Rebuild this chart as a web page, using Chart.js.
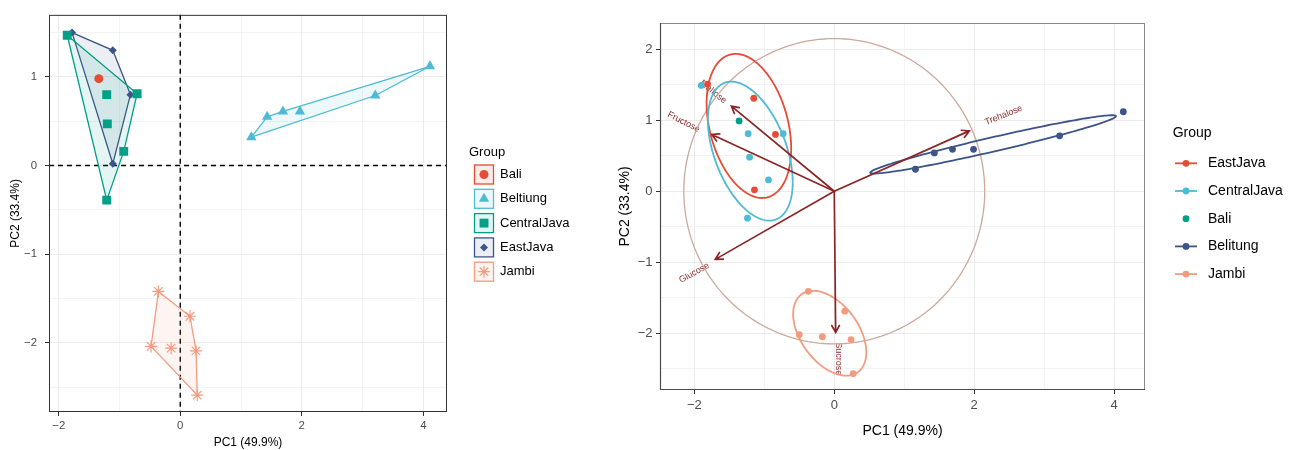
<!DOCTYPE html>
<html>
<head>
<meta charset="utf-8">
<script src="https://cdn.jsdelivr.net/npm/chart.js@4.4.0/dist/chart.umd.min.js"></script>
<style>
  body { margin: 0; background: #fff; width: 1294px; height: 450px; overflow: hidden; position: relative; }
  .box { position: absolute; top: 0; height: 450px; }
  #leftBox { left: 0; width: 600px; }
  #rightBox { left: 600px; width: 694px; }
</style>
</head>
<body>
<div class="box" id="leftBox"><canvas id="hullChart" width="600" height="450"></canvas></div>
<div class="box" id="rightBox"><canvas id="biplotChart" width="694" height="450"></canvas></div>
<script>
// ---- left plot: PCA scores with convex hulls ----
const leftGroups = ['Bali', 'Beltiung', 'CentralJava', 'EastJava', 'Jambi'];
const leftColors = ['#E64B35', '#4DBBD5', '#00A087', '#3C5488', '#F39B7F'];
const leftShapes = ['circle', 'triangle', 'rect', 'rectRot', 'star'];
const leftRadius = [4.5, 6, 6.3, 4, 6];

const leftBali = [[-1.34, 0.98]];
const leftBeltiung = [[4.11, 1.12], [3.21, 0.79], [1.97, 0.61], [1.69, 0.61], [1.43, 0.55], [1.17, 0.32]];
const leftCentralJava = [[-1.86, 1.47], [-1.21, 0.80], [-0.71, 0.81], [-1.20, 0.47], [-0.93, 0.16], [-1.21, -0.39]];
const leftEastJava = [[-1.78, 1.50], [-1.11, 1.30], [-0.82, 0.80], [-1.11, 0.02]];
const leftJambi = [[-0.36, -1.42], [0.16, -1.70], [-0.48, -2.04], [-0.15, -2.06], [0.26, -2.09], [0.28, -2.59]];
const leftPoints = [leftBali, leftBeltiung, leftCentralJava, leftEastJava, leftJambi];

const leftXTicks = [-2, -1, 0, 1, 2, 3, 4];
const leftXLabeled = [-2, 0, 2, 4];
const leftYTicks = [-2.5, -2, -1.5, -1, -0.5, 0, 0.5, 1, 1.5];
const leftYLabeled = [-2, -1, 0, 1];

// ---- right plot: biplot ----
const rightGroups = ['EastJava', 'CentralJava', 'Bali', 'Belitung', 'Jambi'];
const rightColors = ['#E64B35', '#4DBBD5', '#00A087', '#3C5488', '#F39B7F'];

const rightEastJava = [[-1.81, 1.51], [-1.15, 1.31], [-0.84, 0.80], [-1.14, 0.02]];
const rightCentralJava = [[-1.90, 1.49], [-1.23, 0.81], [-0.73, 0.81], [-1.21, 0.48], [-0.94, 0.16], [-1.24, -0.38]];
const rightBali = [[-1.36, 0.99]];
const rightBelitung = [[1.16, 0.31], [1.43, 0.54], [1.69, 0.59], [1.99, 0.59], [3.22, 0.78], [4.13, 1.12]];
const rightJambi = [[-0.37, -1.41], [0.15, -1.69], [-0.50, -2.02], [-0.17, -2.05], [0.24, -2.09], [0.27, -2.57]];
const rightPoints = [rightEastJava, rightCentralJava, rightBali, rightBelitung, rightJambi];

// ellipse per group: centre x, centre y, semi-major, semi-minor, angle (deg); null = none
const rightEllipses = [
  [-1.22, 0.92, 1.04, 0.56, 105],
  [-1.20, 0.565, 1.03, 0.515, 111],
  null,
  [2.27, 0.66, 1.80, 0.10, 12.8],
  [-0.065, -2.0, 0.68, 0.41, 126.7]
];
const circleRadius = 2.15;

const loadingNames = ['Maltose', 'Fructose', 'Glucose', 'Sucrose', 'Trehalose'];
const loadingX = [-1.47, -1.75, -1.70, 0.02, 1.93];
const loadingY = [1.20, 0.80, -0.96, -1.99, 0.85];
const labelX = [-1.73, -2.15, -2.0, 0.06, 2.42];
const labelY = [1.40, 0.975, -1.15, -2.36, 1.07];
const labelAngle = [39, 27, -29, 90, -22];

const rightXTicks = [-2, -1, 0, 1, 2, 3, 4];
const rightXLabeled = [-2, 0, 2, 4];
const rightYTicks = [-2.5, -2, -1.5, -1, -0.5, 0, 0.5, 1, 1.5, 2];
const rightYLabeled = [-2, -1, 0, 1, 2];

const FONT = '"Liberation Sans", Arial, Helvetica, sans-serif';

function fmt(v) {
  return v < 0 ? '\u2212' + Math.abs(v) : String(v);
}

function hexA(hex, a) {
  const n = parseInt(hex.slice(1), 16);
  return `rgba(${(n >> 16) & 255},${(n >> 8) & 255},${n & 255},${a})`;
}

function convexHull(pts) {
  const p = pts.slice().sort((a, b) => a[0] - b[0] || a[1] - b[1]);
  if (p.length < 3) return p;
  const cross = (o, a, b) => (a[0] - o[0]) * (b[1] - o[1]) - (a[1] - o[1]) * (b[0] - o[0]);
  const lower = [], upper = [];
  for (const q of p) {
    while (lower.length >= 2 && cross(lower[lower.length - 2], lower[lower.length - 1], q) <= 0) lower.pop();
    lower.push(q);
  }
  for (const q of p.slice().reverse()) {
    while (upper.length >= 2 && cross(upper[upper.length - 2], upper[upper.length - 1], q) <= 0) upper.pop();
    upper.push(q);
  }
  upper.pop();
  lower.pop();
  return lower.concat(upper);
}

function makeScale(min, max, ticks, labeled, fontSize, labelPad, title, titleSize, titlePad, fixed, isX) {
  return {
    type: 'linear',
    min: min,
    max: max,
    afterBuildTicks: (scale) => { scale.ticks = ticks.map(v => ({ value: v })); },
    afterFit: (scale) => { if (isX) scale.height = fixed; else scale.width = fixed; },
    ticks: {
      autoSkip: false,
      maxRotation: 0,
      padding: labelPad,
      color: '#4D4D4D',
      font: { family: FONT, size: fontSize },
      callback: (v) => labeled.includes(v) ? fmt(v) : ''
    },
    grid: {
      color: '#EBEBEB',
      lineWidth: (ctx) => ctx.tick && labeled.includes(ctx.tick.value) ? 1 : 0.6,
      tickLength: 4,
      tickWidth: 1,
      tickColor: (ctx) => ctx.tick && labeled.includes(ctx.tick.value) ? '#333333' : 'rgba(0,0,0,0)'
    },
    border: { display: false },
    title: {
      display: true,
      text: title,
      color: '#000',
      font: { family: FONT, size: titleSize },
      padding: titlePad
    }
  };
}

// ---------- left chart ----------
const leftDatasets = [];
leftGroups.forEach((g, i) => {
  leftDatasets.push({
    type: 'scatter',
    label: g,
    data: leftPoints[i].map(p => ({ x: p[0], y: p[1] })),
    pointStyle: leftShapes[i],
    pointRadius: leftRadius[i],
    pointBackgroundColor: leftColors[i],
    pointBorderColor: leftColors[i],
    pointBorderWidth: leftShapes[i] === 'star' ? 1.2 : 0,
    order: 0
  });
});
leftGroups.forEach((g, i) => {
  if (leftPoints[i].length < 3) return;
  const hull = convexHull(leftPoints[i]);
  hull.push(hull[0]);
  leftDatasets.push({
    type: 'line',
    label: g + ' hull',
    data: hull.map(p => ({ x: p[0], y: p[1] })),
    borderColor: leftColors[i],
    backgroundColor: hexA(leftColors[i], 0.1),
    borderWidth: 1.3,
    pointRadius: 0,
    tension: 0,
    fill: 'shape',
    order: 1
  });
});

const leftDecor = {
  id: 'leftDecor',
  beforeDatasetsDraw(chart) {
    const { ctx, chartArea: a, scales: { x, y } } = chart;
    ctx.save();
    ctx.strokeStyle = '#000';
    ctx.lineWidth = 1.4;
    ctx.setLineDash([5, 4]);
    ctx.beginPath();
    ctx.moveTo(x.getPixelForValue(0), a.top);
    ctx.lineTo(x.getPixelForValue(0), a.bottom);
    ctx.moveTo(a.left, y.getPixelForValue(0));
    ctx.lineTo(a.right, y.getPixelForValue(0));
    ctx.stroke();
    ctx.restore();
  },
  afterDraw(chart) {
    const { ctx, chartArea: a } = chart;
    ctx.save();
    ctx.strokeStyle = '#333';
    ctx.lineWidth = 1;
    ctx.strokeRect(a.left + 0.5, a.top + 0.5, a.right - a.left - 1, a.bottom - a.top - 1);
    // legend
    ctx.fillStyle = '#000';
    ctx.font = '13px ' + FONT;
    ctx.textBaseline = 'middle';
    ctx.textAlign = 'left';
    ctx.fillText('Group', 469, 152);
    leftGroups.forEach((g, i) => {
      const cy = 174.5 + 24.3 * i;
      const cx = 484;
      ctx.fillStyle = hexA(leftColors[i], 0.1);
      ctx.fillRect(cx - 9.5, cy - 9.5, 19, 19);
      ctx.strokeStyle = leftColors[i];
      ctx.lineWidth = 1.3;
      ctx.strokeRect(cx - 9.5, cy - 9.5, 19, 19);
      ctx.fillStyle = leftColors[i];
      ctx.strokeStyle = leftColors[i];
      ctx.lineWidth = 1.2;
      Chart.helpers.drawPoint(ctx, {
        pointStyle: leftShapes[i], radius: leftRadius[i], rotation: 0,
        borderWidth: leftShapes[i] === 'star' ? 1.2 : 0
      }, cx, cy);
      ctx.fillStyle = '#000';
      ctx.fillText(g, 500, cy);
    });
    ctx.restore();
  }
};

new Chart(document.getElementById('hullChart'), {
  type: 'scatter',
  data: { datasets: leftDatasets },
  options: {
    responsive: false,
    animation: false,
    layout: { padding: { left: 0, top: 14, right: 153, bottom: 0 } },
    plugins: { legend: { display: false }, tooltip: { enabled: false } },
    scales: {
      x: makeScale(-2.16, 4.39, leftXTicks, leftXLabeled, 11.4, 3, 'PC1 (49.9%)', 12, { top: 0, bottom: 0 }, 38, true),
      y: makeScale(-2.78, 1.70, leftYTicks, leftYLabeled, 11.4, 8, 'PC2 (33.4%)', 12, { top: 8, bottom: 0 }, 49, false)
    }
  },
  plugins: [leftDecor]
});

// ---------- right chart ----------
const rightDatasets = rightGroups.map((g, i) => ({
  type: 'scatter',
  label: g,
  data: rightPoints[i].map(p => ({ x: p[0], y: p[1] })),
  pointStyle: 'circle',
  pointRadius: 3.4,
  pointBackgroundColor: rightColors[i],
  pointBorderWidth: 0
}));

function ellipsePath(ctx, xs, ys, e) {
  const [cx, cy, ra, rb, deg] = e;
  const r = deg * Math.PI / 180;
  ctx.beginPath();
  for (let k = 0; k <= 180; k++) {
    const t = k / 180 * 2 * Math.PI;
    const dx = ra * Math.cos(t), dy = rb * Math.sin(t);
    const px = xs.getPixelForValue(cx + dx * Math.cos(r) - dy * Math.sin(r));
    const py = ys.getPixelForValue(cy + dx * Math.sin(r) + dy * Math.cos(r));
    if (k === 0) ctx.moveTo(px, py); else ctx.lineTo(px, py);
  }
  ctx.closePath();
}

const biplotDecor = {
  id: 'biplotDecor',
  beforeDatasetsDraw(chart) {
    const { ctx, chartArea: a, scales: { x, y } } = chart;
    ctx.save();
    ctx.beginPath();
    ctx.rect(a.left, a.top, a.right - a.left, a.bottom - a.top);
    ctx.clip();

    // variable labels
    ctx.fillStyle = '#8B2A2A';
    ctx.font = '9px ' + FONT;
    ctx.textAlign = 'center';
    ctx.textBaseline = 'middle';
    loadingNames.forEach((n, i) => {
      ctx.save();
      ctx.translate(x.getPixelForValue(labelX[i]), y.getPixelForValue(labelY[i]));
      ctx.rotate(labelAngle[i] * Math.PI / 180);
      ctx.fillText(n, 0, 0);
      ctx.restore();
    });

    // correlation circle
    ellipsePath(ctx, x, y, [0, 0, circleRadius, circleRadius, 0]);
    ctx.strokeStyle = '#CBA99B';
    ctx.lineWidth = 1.3;
    ctx.stroke();

    // group ellipses
    rightEllipses.forEach((e, i) => {
      if (!e) return;
      ellipsePath(ctx, x, y, e);
      ctx.strokeStyle = rightColors[i];
      ctx.lineWidth = 1.8;
      ctx.stroke();
    });

    // loading arrows
    const ox = x.getPixelForValue(0), oy = y.getPixelForValue(0);
    ctx.strokeStyle = '#8B2525';
    ctx.lineWidth = 1.7;
    ctx.lineCap = 'round';
    loadingNames.forEach((n, i) => {
      const ex = x.getPixelForValue(loadingX[i]), ey = y.getPixelForValue(loadingY[i]);
      const ang = Math.atan2(ey - oy, ex - ox);
      ctx.beginPath();
      ctx.moveTo(ox, oy);
      ctx.lineTo(ex, ey);
      ctx.moveTo(ex - 8 * Math.cos(ang - 0.5), ey - 8 * Math.sin(ang - 0.5));
      ctx.lineTo(ex, ey);
      ctx.lineTo(ex - 8 * Math.cos(ang + 0.5), ey - 8 * Math.sin(ang + 0.5));
      ctx.stroke();
    });
    ctx.restore();
  },
  afterDraw(chart) {
    const { ctx, chartArea: a } = chart;
    ctx.save();
    ctx.strokeStyle = '#8A8A8A';
    ctx.lineWidth = 1;
    ctx.strokeRect(a.left + 0.5, a.top + 0.5, a.right - a.left - 1, a.bottom - a.top - 1);
    ctx.strokeStyle = '#4D4D4D';
    ctx.lineWidth = 1.2;
    ctx.beginPath();
    ctx.moveTo(a.left + 0.5, a.top);
    ctx.lineTo(a.left + 0.5, a.bottom - 0.5);
    ctx.lineTo(a.right, a.bottom - 0.5);
    ctx.stroke();

    // legend
    ctx.fillStyle = '#000';
    ctx.font = '14px ' + FONT;
    ctx.textBaseline = 'middle';
    ctx.textAlign = 'left';
    ctx.fillText('Group', 572.7, 133.3);
    rightGroups.forEach((g, i) => {
      const cy = 163.3 + 27.7 * i;
      ctx.strokeStyle = rightColors[i];
      ctx.fillStyle = rightColors[i];
      if (rightEllipses[i]) {
        ctx.lineWidth = 1.8;
        ctx.beginPath();
        ctx.moveTo(575, cy);
        ctx.lineTo(597, cy);
        ctx.stroke();
      }
      ctx.beginPath();
      ctx.arc(586, cy, 3.4, 0, Math.PI * 2);
      ctx.fill();
      ctx.fillStyle = '#000';
      ctx.fillText(g, 608, cy);
    });
    ctx.restore();
  }
};

new Chart(document.getElementById('biplotChart'), {
  type: 'scatter',
  data: { datasets: rightDatasets },
  options: {
    responsive: false,
    animation: false,
    layout: { padding: { left: 0, top: 23, right: 149, bottom: 0 } },
    plugins: { legend: { display: false }, tooltip: { enabled: false } },
    scales: {
      x: makeScale(-2.49, 4.44, rightXTicks, rightXLabeled, 13, 4, 'PC1 (49.9%)', 14, { top: 0, bottom: 10 }, 60, true),
      y: makeScale(-2.80, 2.37, rightYTicks, rightYLabeled, 13, 3.5, 'PC2 (33.4%)', 14, { top: 16.6, bottom: 0 }, 60, false)
    }
  },
  plugins: [biplotDecor]
});
</script>
</body>
</html>
